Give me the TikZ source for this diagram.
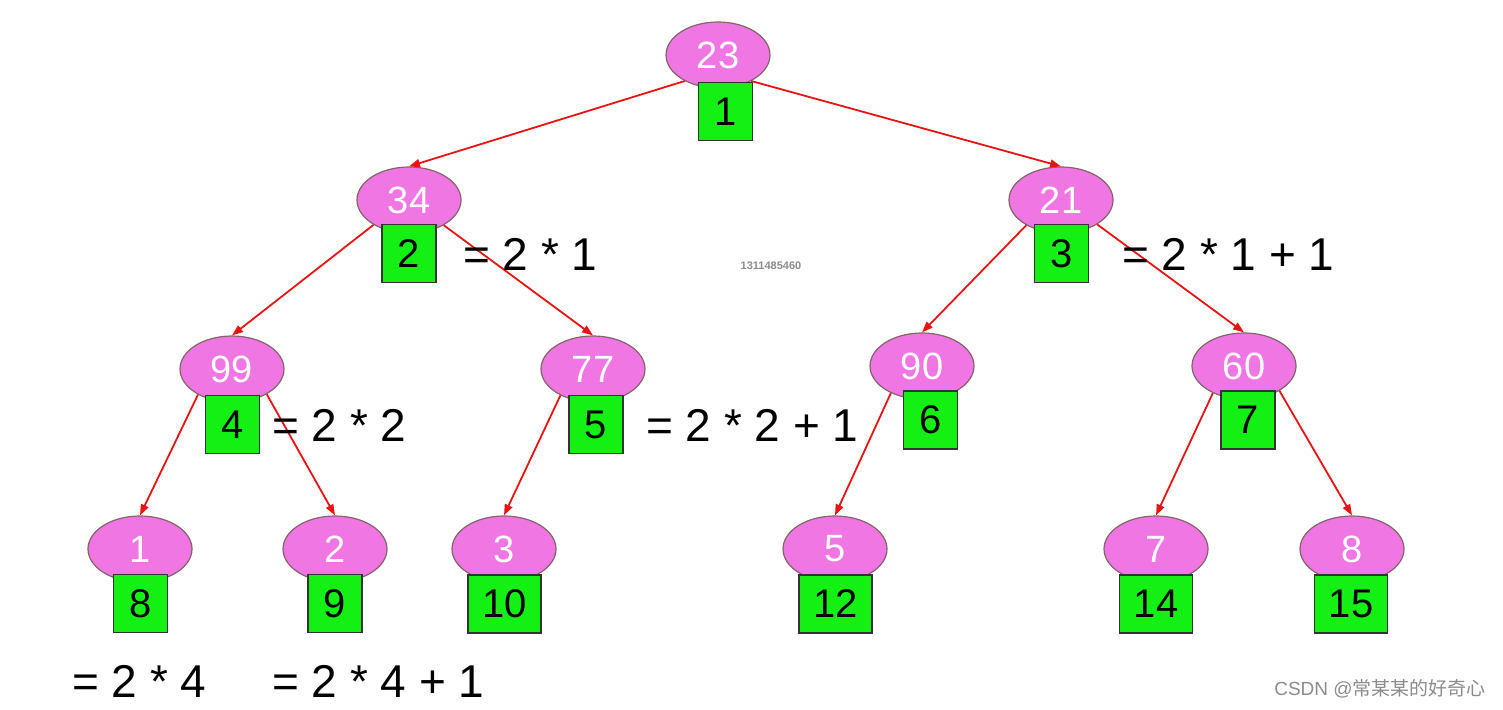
\documentclass[tikz,border=0pt]{standalone}
\usepackage{fontspec}
\setmainfont{Liberation Sans}
\newfontfamily\cjk{Noto Sans CJK SC}
\usetikzlibrary{shapes.geometric,arrows.meta}
\definecolor{pinkfill}{RGB}{240,118,228}
\definecolor{pinkline}{RGB}{130,100,105}
\definecolor{boxgreen}{RGB}{20,240,20}
\definecolor{edgered}{RGB}{232,20,20}
\begin{document}
\begin{tikzpicture}[x=1pt,y=-1pt,
  ell/.style={ellipse,draw=pinkline,line width=1.2pt,fill=pinkfill,minimum width=104pt,minimum height=66pt,inner sep=0pt,text=white,font=\fontsize{38}{42}\selectfont},
  sq/.style={rectangle,draw=black!80,line width=1.2pt,fill=boxgreen,minimum width=54pt,minimum height=58pt,inner sep=0pt,font=\fontsize{40}{44}\selectfont},
  wsq/.style={sq,minimum width=73pt},
  eq/.style={anchor=west,inner sep=0pt,font=\fontsize{46}{50}\selectfont},
  edge/.style={draw=edgered,line width=1.8pt,-{Triangle[length=11pt,width=8pt]}}]
\fill[white] (0,0) rectangle (1503,709);
\useasboundingbox (0,0) rectangle (1503,709);
% level 0
\node[ell] (e23) at (718,55) {23};
\node[sq] (b1) at (725.5,111.5) {1};
% level 1
\node[ell] (e34) at (409,200) {34};
\node[sq] (b2) at (409,253.5) {2};
\node[ell] (e21) at (1061,200) {21};
\node[sq] (b3) at (1061.5,253.5) {3};
% level 2
\node[ell] (e99) at (232,369) {99};
\node[sq] (b4) at (232.5,424.5) {4};
\node[ell] (e77) at (593,369) {77};
\node[sq] (b5) at (596,424.5) {5};
\node[ell] (e90) at (922,366) {90};
\node[sq] (b6) at (930.5,420) {6};
\node[ell] (e60) at (1244,366) {60};
\node[sq] (b7) at (1248,420) {7};
% level 3
\node[ell] (e1) at (140,549) {1};
\node[sq] (b8) at (140.5,603.5) {8};
\node[ell] (e2) at (335,549) {2};
\node[sq] (b9) at (335,603.5) {9};
\node[ell] (e3) at (504,549) {3};
\node[wsq] (b10) at (504.5,604) {10};
\node[ell] (e5) at (835,549) {5};
\node[wsq] (b12) at (835.5,604) {12};
\node[ell] (e7) at (1156,549) {7};
\node[wsq] (b14) at (1156,604) {14};
\node[ell] (e8) at (1352,549) {8};
\node[wsq] (b15) at (1351,604) {15};
% edges
\draw[edge] (e23.218) -- (e34.north);
\draw[edge] (e23.322) -- (e21.north);
\draw[edge] (e34.215) -- (e99.north);
\draw[edge] (e34.324) -- (e77.north);
\draw[edge] (e21.216) -- (e90.north);
\draw[edge] (e21.326) -- (e60.north);
\draw[edge] (e99.217) -- (e1.north);
\draw[edge] (e99.324) -- (e2.north);
\draw[edge] (e77.219) -- (e3.north);
\draw[edge] (e90.221) -- (e5.north);
\draw[edge] (e60.221) -- (e7.north);
\draw[edge] (e60.325) -- (e8.north);
% equations
\node[eq] (q1) at (463,254) {= 2 * 1};
\node[eq] (q2) at (1122,254) {= 2 * 1 + 1};
\node[eq] (q3) at (272,425) {= 2 * 2};
\node[eq] (q4) at (646,425) {= 2 * 2 + 1};
\node[eq] (q5) at (72,681) {= 2 * 4};
\node[eq] (q6) at (272,681) {= 2 * 4 + 1};
% watermarks
\node[text=black!45,font=\fontsize{11}{12}\selectfont\bfseries,inner sep=0pt] (wm) at (771,266) {1311485460};
\node[text=black!45,font=\fontsize{19}{21}\selectfont,inner sep=0pt] (csdn) at (1380,689) {CSDN @{\cjk 常某某的好奇心}};
\end{tikzpicture}
\end{document}
